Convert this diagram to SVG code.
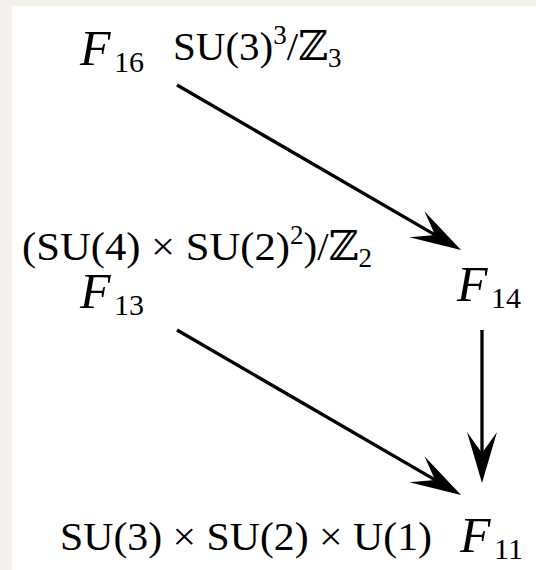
<svg xmlns="http://www.w3.org/2000/svg" width="536" height="570" viewBox="0 0 536 570">
<defs>
<style>
text{font-family:'Liberation Serif','Times New Roman','DejaVu Serif',serif;fill:#000}
.F{font-style:italic;font-size:50px}
.sub{font-size:30px;font-style:normal}
.g{font-size:41px}
.s{font-size:27px}
.c{stroke:#000;stroke-width:3.3;fill:none}
</style>
<marker id="ah" markerUnits="userSpaceOnUse" viewBox="-30 -20 60 40" markerWidth="60" markerHeight="40" refX="0" refY="0" orient="auto" overflow="visible">
<path d="M25,0 L-26,-15 L-5,0 L-26,15 Z" fill="#000"/>
</marker>
</defs>
<rect width="536" height="570" fill="#f3f0eb"/>
<rect x="12" y="6" width="524" height="564" fill="#ffffff"/>
<g id="connectors">
<line class="c" x1="177" y1="85" x2="439.4" y2="237.4" marker-end="url(#ah)"/>
<line class="c" x1="177" y1="330" x2="439.4" y2="482.4" marker-end="url(#ah)"/>
<line class="c" x1="482" y1="330" x2="482" y2="458" marker-end="url(#ah)"/>
</g>
<g id="F16">
<text x="80" y="65"><tspan class="F">F</tspan><tspan class="sub" x="114" dy="7">16</tspan></text>
<text class="g" x="173" y="60">SU(3)<tspan class="s" dy="-16">3</tspan><tspan dy="16">/ℤ</tspan><tspan class="s" dy="7">3</tspan></text>
</g>
<g id="F13">
<text class="g" x="22" y="260"><tspan textLength="268" lengthAdjust="spacingAndGlyphs">(SU(4) × SU(2)</tspan><tspan class="s" dy="-16">2</tspan><tspan dy="16">)/ℤ</tspan><tspan class="s" dy="7">2</tspan></text>
<text x="80" y="308"><tspan class="F">F</tspan><tspan class="sub" x="114" dy="7">13</tspan></text>
</g>
<g id="F14">
<text x="457" y="301"><tspan class="F">F</tspan><tspan class="sub" x="491" dy="7">14</tspan></text>
</g>
<g id="F11">
<text class="g" x="60" y="550" textLength="372" lengthAdjust="spacingAndGlyphs">SU(3) × SU(2) × U(1)</text>
<text x="460" y="552"><tspan class="F">F</tspan><tspan class="sub" x="494" dy="7">11</tspan></text>
</g>
</svg>
